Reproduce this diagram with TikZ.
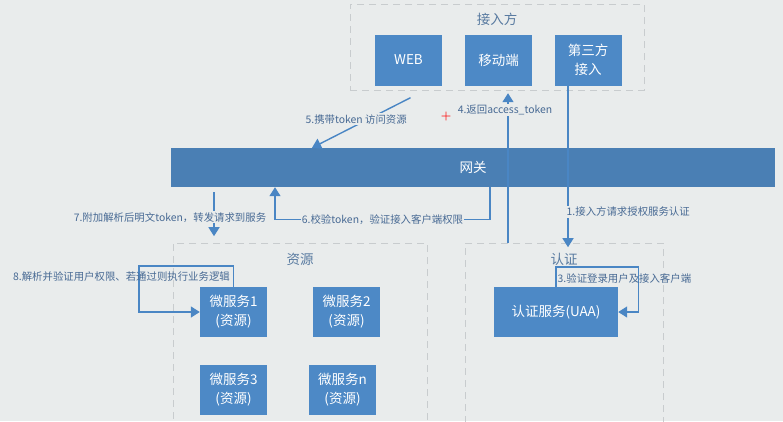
\documentclass[tikz,border=0pt]{standalone}
\usepackage{fontspec}
\newfontfamily\cjk{Noto Sans CJK SC}
\usetikzlibrary{arrows.meta}

\definecolor{bg}{RGB}{233,236,236}
\definecolor{boxblue}{RGB}{77,137,198}
\definecolor{barblue}{RGB}{74,127,180}
\definecolor{lineblue}{RGB}{74,134,196}
\definecolor{noteblue}{RGB}{72,106,148}
\definecolor{titleblue}{RGB}{88,122,160}
\definecolor{dashgray}{RGB}{200,204,206}

\begin{document}
\begin{tikzpicture}[x=1pt,y=-1pt,
    svc/.style={fill=boxblue, text=white, font=\cjk\fontsize{13.5}{19}\selectfont,
        minimum width=67pt, minimum height=50pt, inner sep=0pt, align=center},
    area/.style={draw=dashgray, line width=1pt, dash pattern=on 7pt off 5pt, inner sep=0pt},
    areatitle/.style={text=titleblue, font=\cjk\fontsize{13.5}{16}\selectfont},
    flow/.style={draw=lineblue, line width=1.4pt, -{Triangle[width=11pt,length=9pt]}},
    note/.style={text=noteblue, font=\cjk\fontsize{10.4}{12}\selectfont, inner sep=1pt},
    notebg/.style={note, fill=bg}]

    % Фон
    \useasboundingbox (0,0) rectangle (783,421);
    \fill[bg] (0,0) rectangle (783,421);

    % 接入方
    \node[area, minimum width=294pt, minimum height=86pt] (client) at (497,47) {};
    \node[areatitle] (clientT) at ([yshift=-16pt]client.north) {接入方};
    \foreach \name/\x/\txt in {web/408.5/WEB, mobile/498.5/移动端, third/588/第三方\\接入}
        \node[svc, minimum height=51pt] (\name) at (\x,60) {\txt};

    % 网关
    \node[svc, fill=barblue, minimum width=604pt, minimum height=39pt] (gw) at (473,167.5) {网关};

    % 资源 / 认证
    \node[area, minimum width=254pt, minimum height=187pt] (res) at (300,336.5) {};
    \node[areatitle] (resT) at ([yshift=-17pt]res.north) {资源};
    \node[area, minimum width=198pt, minimum height=187pt] (auth) at (564,336.5) {};
    \node[areatitle] (authT) at ([yshift=-17pt]auth.north) {认证};

    % 微服务
    \foreach \name/\x/\y/\n in {ms1/233.5/312/1, ms2/346.5/312/2, ms3/233.5/389.5/3, msn/342.5/389.5/n}
        \node[svc] (\name) at (\x,\y) {微服务\n\\(资源)};
    \node[svc, minimum width=124pt] (uaa) at (556,312) {认证服务(UAA)};

    % 1
    \draw[flow] ([xshift=-20pt]third.south) -- ++(0,161.5)
        node[notebg, pos=0.78, anchor=west, xshift=-3pt] {1.接入方请求授权服务认证};

    % 3
    \draw[flow] (uaa.north) -- ++(0,-20) node[note, pos=0.4, anchor=west] {3.验证登录用户及接入客户端}
        -| ([xshift=20pt]uaa.east) -- (uaa.east);

    % 4
    \coordinate (tokenSrc) at (508,243);
    \draw[flow, shorten >=7.5pt] (tokenSrc) -- (tokenSrc |- mobile.south)
        node[notebg, pos=0.845, xshift=-3pt] {4.返回access\_token};

    % 5
    \draw[flow] ([xshift=2pt,yshift=-12pt]web.south) -- ([xshift=-161pt]gw.north)
        node[notebg, pos=0.43, xshift=-12pt] {5.携带token 访问资源};

    % 6
    \draw[flow] ([xshift=17pt]gw.south) -- ++(0,32)
        -| node[notebg, pos=0.25] {6.校验token，验证接入客户端权限} ([xshift=-198pt]gw.south);

    % 7
    \draw[flow, shorten <=5pt, shorten >=7pt] ([xshift=-259pt]gw.south) -- ++(0,56)
        node[notebg, pos=0.54, xshift=-44pt] {7.附加解析后明文token，转发请求到服务};

    % 8
    \draw[flow] (ms1.north) -- ++(0,-21) -| ([xshift=-61pt]ms1.west) -- (ms1.west);
    \node[note, anchor=east] (n8) at (231,277) {8.解析并验证用户权限、若通过则执行业务逻辑};

    % Курсор
    \node[text=red, font=\bfseries\fontsize{12}{12}\selectfont, inner sep=0pt] (cursor) at (446,117) {+};
\end{tikzpicture}
\end{document}
